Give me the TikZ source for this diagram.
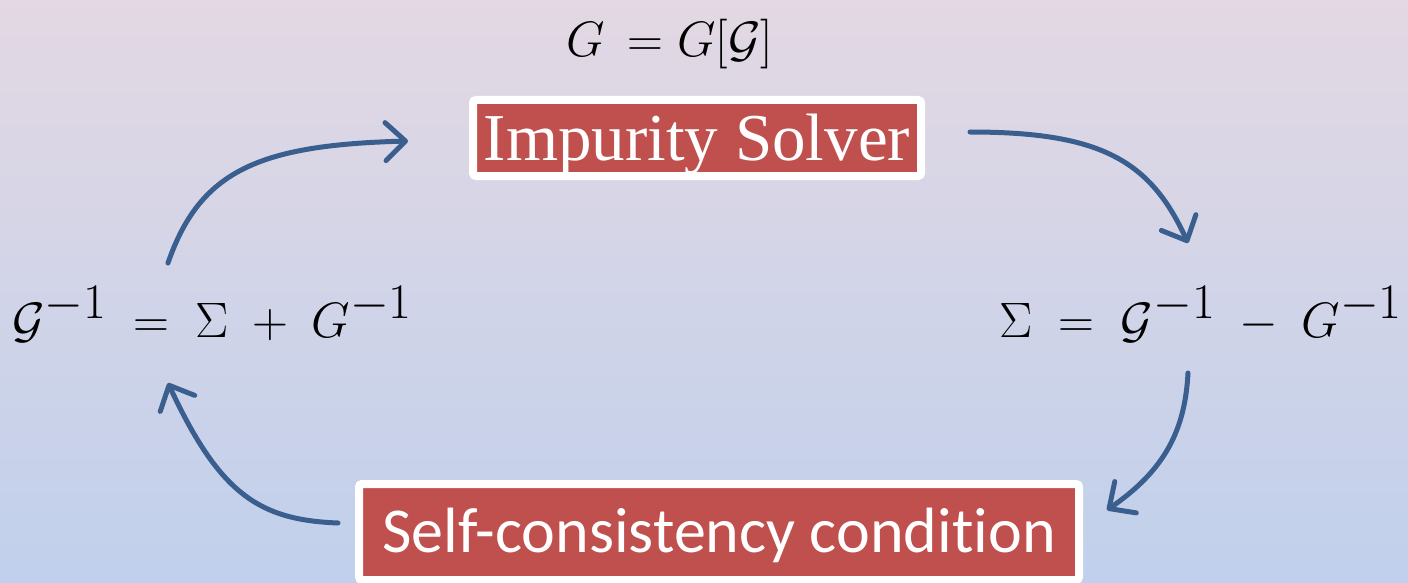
\documentclass[tikz,border=0pt]{standalone}
\usepackage{fontspec}
\setmainfont{Liberation Serif}
\newfontfamily\carlito[Ligatures=NoCommon]{Carlito}
\usetikzlibrary{arrows.meta,shadows}
\definecolor{boxred}{HTML}{C0504D}
\definecolor{arrowblue}{HTML}{3A5F8F}
\definecolor{bgtop}{RGB}{227,216,227}
\definecolor{bgbot}{RGB}{192,208,236}
\newcommand{\widesp}{\thickmuskip=9.5mu\relax\medmuskip=8.5mu\relax}
\begin{document}
\begin{tikzpicture}[x=0.5pt,y=-0.5pt,
  box/.style={fill=boxred, draw=white, line width=4pt, rounded corners=1.5pt,
    text=white, inner sep=0pt,
    drop shadow={shadow xshift=0.3pt, shadow yshift=-1.5pt, opacity=0.25, fill=black}},
  flow/.style={draw=arrowblue, line width=2.5pt, line cap=round,
    -{Straight Barb[round,length=10pt,width=19pt]}},
  eq/.style={inner sep=0pt, font=\fontsize{36.5}{40}\selectfont}
]
\shade[top color=bgtop, bottom color=bgbot] (0,0) rectangle (1408,583);
\useasboundingbox (0,0) rectangle (1408,583);

\node[box, minimum width=224pt, minimum height=38pt,
  font=\fontsize{33.5}{36}\selectfont, text height=22.2pt, text depth=0pt]
  (solver) at (697,138) {Impurity Solver};
\node[box, minimum width=360pt, minimum height=48pt,
  font=\carlito\fontsize{32}{36}\selectfont, text height=20.6pt, text depth=0pt]
  (sc) at (719,532) {Self-consistency condition};

\node[inner sep=0pt, anchor=base, font=\fontsize{30}{34}\selectfont]
  (top) at (670,57) {$G\,=G[\mathcal{G}]$};
\node[eq, anchor=base west] (left) at (12,337) {$\widesp\mathcal{G}^{-1}=\Sigma+G^{-1}$};
\node[eq, anchor=base east] (right) at (1403,337) {$\widesp\Sigma=\mathcal{G}^{-1}-G^{-1}$};

\coordinate (a1s) at (168,263);
\coordinate (a1e) at (408,141);
\coordinate (a2s) at (970,132);
\coordinate (a2e) at (1188,243);
\coordinate (a3s) at (1188,373);
\coordinate (a3e) at (1107,510);
\coordinate (a4s) at (338,523);
\coordinate (a4e) at (168,383);

\draw[flow] (a1s) .. controls (200,170) and (260,145) .. (a1e);
\draw[flow] (a2s) .. controls (1100,132) and (1150,160) .. (a2e);
\draw[flow] (a3s) .. controls (1185,430) and (1165,470) .. (a3e);
\draw[flow] (a4s) .. controls (260,520) and (220,495) .. (a4e);
\end{tikzpicture}
\end{document}
